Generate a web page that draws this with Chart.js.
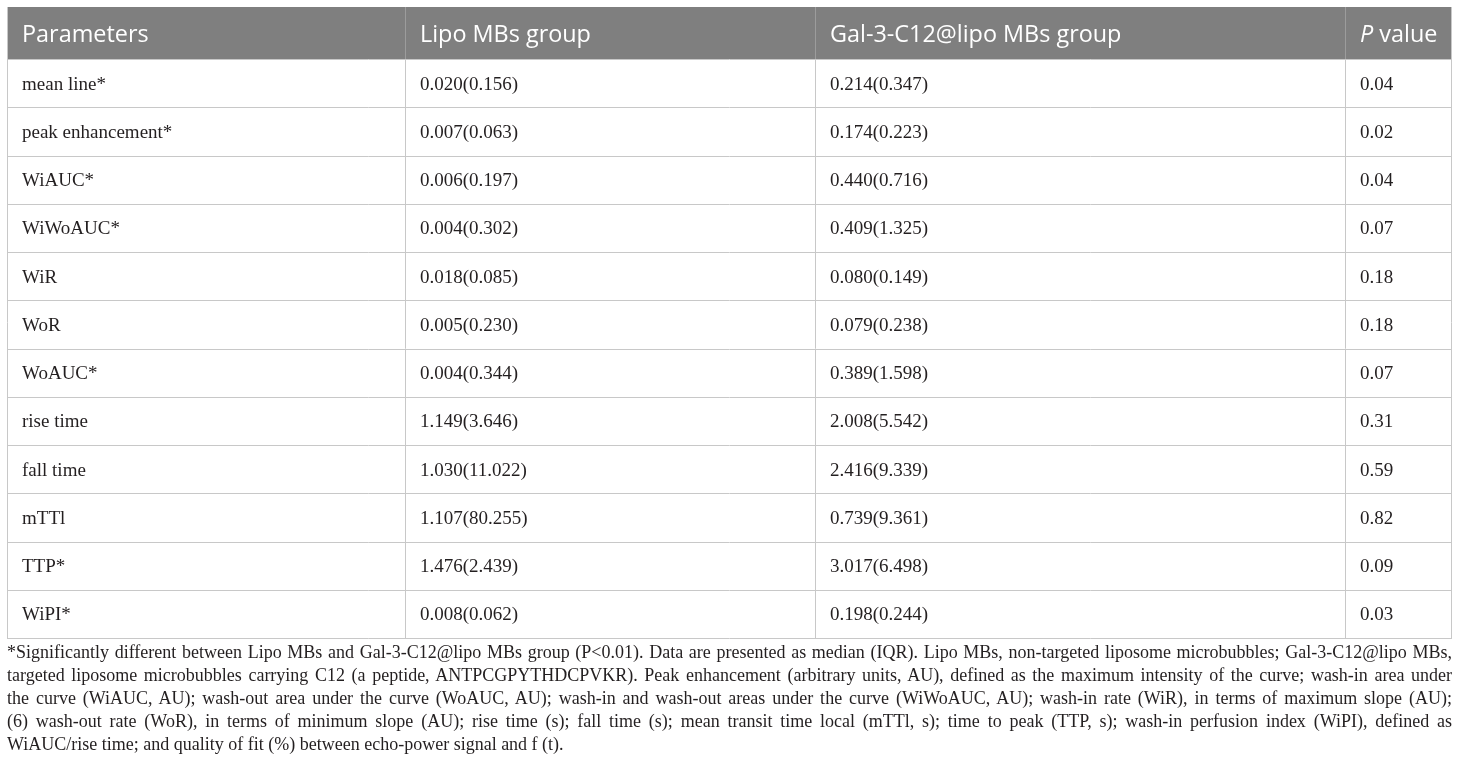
<!DOCTYPE html>
<html>
<head>
<meta charset="utf-8">
<script src="https://cdn.jsdelivr.net/npm/chart.js@4.4.1/dist/chart.umd.min.js"></script>
<style>
    html, body { margin: 0; padding: 0; background: #fff; }
    #wrap { position: relative; width: 1460px; height: 775px; overflow: hidden; }
    #tableChart { position: absolute; left: 0; top: 0; }
    #note {
        position: absolute; left: 7px; top: 641px; width: 1445px;
        font-family: "Liberation Serif", "DejaVu Serif", serif;
        font-size: 18px; line-height: 23px; color: #231f20;
    }
    #note div { text-align: justify; text-align-last: justify; white-space: nowrap; }
    #note div.last { text-align-last: left; }
</style>
</head>
<body>
<div id="wrap">
    <canvas id="tableChart" width="1460" height="645"></canvas>
    <div id="note">
        <div>*Significantly different between Lipo MBs and Gal-3-C12@lipo MBs group (P&lt;0.01). Data are presented as median (IQR). Lipo MBs, non-targeted liposome microbubbles; Gal-3-C12@lipo MBs,</div>
        <div>targeted liposome microbubbles carrying C12 (a peptide, ANTPCGPYTHDCPVKR). Peak enhancement (arbitrary units, AU), defined as the maximum intensity of the curve; wash-in area under</div>
        <div>the curve (WiAUC, AU); wash-out area under the curve (WoAUC, AU); wash-in and wash-out areas under the curve (WiWoAUC, AU); wash-in rate (WiR), in terms of maximum slope (AU);</div>
        <div>(6) wash-out rate (WoR), in terms of minimum slope (AU); rise time (s); fall time (s); mean transit time local (mTTl, s); time to peak (TTP, s); wash-in perfusion index (WiPI), defined as</div>
        <div class="last">WiAUC/rise time; and quality of fit (%) between echo-power signal and f (t).</div>
    </div>
</div>
<script>
// Table data
const columns = ['Parameters', 'Lipo MBs group', 'Gal-3-C12@lipo MBs group', 'P value'];
const parameters = ['mean line*', 'peak enhancement*', 'WiAUC*', 'WiWoAUC*', 'WiR', 'WoR',
    'WoAUC*', 'rise time', 'fall time', 'mTTl', 'TTP*', 'WiPI*'];
const lipoMedian = [0.020, 0.007, 0.006, 0.004, 0.018, 0.005, 0.004, 1.149, 1.030, 1.107, 1.476, 0.008];
const lipoIqr = [0.156, 0.063, 0.197, 0.302, 0.085, 0.230, 0.344, 3.646, 11.022, 80.255, 2.439, 0.062];
const galMedian = [0.214, 0.174, 0.440, 0.409, 0.080, 0.079, 0.389, 2.008, 2.416, 0.739, 3.017, 0.198];
const galIqr = [0.347, 0.223, 0.716, 1.325, 0.149, 0.238, 1.598, 5.542, 9.339, 9.361, 6.498, 0.244];
const pValues = [0.04, 0.02, 0.04, 0.07, 0.18, 0.18, 0.07, 0.31, 0.59, 0.82, 0.09, 0.03];

// Layout: column edges in x-scale units (table width 1445)
const colEdges = [0, 398, 808, 1338, 1445];
const headerHeight = 52;
const cellPad = 15;

const serif = '"Liberation Serif", "DejaVu Serif", serif';
const sans = '"Open Sans", "Noto Sans", sans-serif';

// Shrink the footnote font a little if the widest line would not fit
(function fitNote() {
    const note = document.getElementById('note');
    const m = document.createElement('canvas').getContext('2d');
    m.font = '18px ' + serif;
    let widest = 0;
    note.querySelectorAll('div').forEach(d => {
        widest = Math.max(widest, m.measureText(d.textContent).width);
    });
    if (widest > 1444) {
        note.style.fontSize = (18 * 1444 / widest).toFixed(2) + 'px';
    }
})();

function medianIqr(m, q) {
    return m.toFixed(3) + '(' + q.toFixed(3) + ')';
}

function rowCells(i) {
    return [
        parameters[i],
        medianIqr(lipoMedian[i], lipoIqr[i]),
        medianIqr(galMedian[i], galIqr[i]),
        pValues[i].toFixed(2)
    ];
}

// Draws header, cells and grid lines from the chart scales
const tablePlugin = {
    id: 'tablePlugin',
    afterDraw(chart) {
        const ctx = chart.ctx;
        const x = chart.scales.x;
        const y = chart.scales.y;
        const area = chart.chartArea;
        const rowH = (area.bottom - area.top) / parameters.length;
        const left = x.getPixelForValue(colEdges[0]);
        const right = x.getPixelForValue(colEdges[colEdges.length - 1]);
        const headTop = area.top - headerHeight;

        ctx.save();

        // header band
        ctx.fillStyle = '#7f7f7f';
        ctx.fillRect(left, headTop, right - left, headerHeight);

        ctx.fillStyle = '#ffffff';
        ctx.textBaseline = 'middle';
        ctx.textAlign = 'left';
        columns.forEach((label, c) => {
            const tx = x.getPixelForValue(colEdges[c]) + cellPad;
            const ty = headTop + headerHeight / 2 + 2.5;
            if (label === 'P value') {
                ctx.font = 'italic 23.4px ' + sans;
                ctx.fillText('P', tx, ty);
                const w = ctx.measureText('P').width;
                ctx.font = '23.4px ' + sans;
                ctx.fillText(' value', tx + w, ty);
            } else {
                ctx.font = '23.4px ' + sans;
                ctx.fillText(label, tx, ty);
            }
        });

        // header separators
        ctx.strokeStyle = '#9c9c9c';
        ctx.lineWidth = 1;
        for (let c = 1; c < colEdges.length - 1; c++) {
            const px = Math.round(x.getPixelForValue(colEdges[c])) + 0.5;
            ctx.beginPath();
            ctx.moveTo(px, headTop);
            ctx.lineTo(px, area.top);
            ctx.stroke();
        }

        // body cells
        ctx.font = '19px ' + serif;
        ctx.fillStyle = '#231f20';
        parameters.forEach((p, i) => {
            const cy = y.getPixelForValue(i) + 1.5;
            rowCells(i).forEach((txt, c) => {
                ctx.fillText(txt, x.getPixelForValue(colEdges[c]) + cellPad, cy);
            });
        });

        // body grid
        ctx.strokeStyle = '#c8c8c8';
        for (let i = 0; i <= parameters.length; i++) {
            const py = Math.round(area.top + i * rowH) + 0.5;
            ctx.beginPath();
            ctx.moveTo(left, py);
            ctx.lineTo(right, py);
            ctx.stroke();
        }
        colEdges.forEach((edge, c) => {
            const px = Math.round(x.getPixelForValue(edge)) + (c === colEdges.length - 1 ? -0.5 : 0.5);
            ctx.beginPath();
            ctx.moveTo(px, (c === 0 || c === colEdges.length - 1) ? headTop : area.top);
            ctx.lineTo(px, area.bottom);
            ctx.stroke();
        });

        ctx.restore();
    }
};

const ctx = document.getElementById('tableChart');
new Chart(ctx, {
    type: 'bar',
    data: {
        labels: parameters,
        datasets: []
    },
    options: {
        responsive: false,
        animation: false,
        indexAxis: 'y',
        layout: {
            padding: { left: 7, right: 8, top: 7 + headerHeight, bottom: 7 }
        },
        plugins: {
            legend: { display: false },
            tooltip: { enabled: false }
        },
        scales: {
            x: { type: 'linear', min: colEdges[0], max: colEdges[colEdges.length - 1], display: false },
            y: { type: 'category', labels: parameters, offset: true, display: false }
        }
    },
    plugins: [tablePlugin]
});
</script>
</body>
</html>
